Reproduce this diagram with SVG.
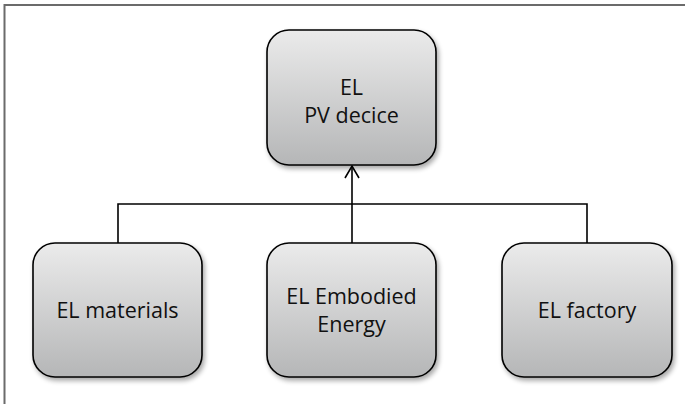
<svg xmlns="http://www.w3.org/2000/svg" width="685" height="404" viewBox="0 0 685 404">
<style>
.box{fill:url(#g);stroke:#000;stroke-width:1.6;filter:url(#sh)}
.t{font-family:"Open Sans","Liberation Sans",sans-serif;font-size:21.5px;fill:#111;text-anchor:middle}
.c{fill:none;stroke:#000;stroke-width:1.6}
</style>
<defs>
<linearGradient id="g" x1="0" y1="0" x2="0" y2="1">
<stop offset="0" stop-color="#ebebeb"/>
<stop offset="1" stop-color="#b5b6b7"/>
</linearGradient>
<filter id="sh" x="-10%" y="-10%" width="125%" height="130%">
<feGaussianBlur in="SourceAlpha" stdDeviation="2.5"/>
<feOffset dx="2" dy="3" result="b"/>
<feComponentTransfer><feFuncA type="linear" slope="0.35"/></feComponentTransfer>
<feMerge><feMergeNode/><feMergeNode in="SourceGraphic"/></feMerge>
</filter>
</defs>
<rect width="685" height="404" fill="#fff"/>
<path d="M4.5 404 V5 H685" fill="none" stroke="#6b6b6b" stroke-width="2"/>
<g id="connectors">
<path class="c" d="M118 243 V204 H587 V243"/>
<path class="c" d="M352 243 V166"/>
<path class="c" d="M345 178 L352 166 L359 178"/>
</g>
<g id="pv">
<rect class="box" x="267" y="30" width="169" height="135" rx="22"/>
<text class="t" x="351.5" y="95">EL</text>
<text class="t" x="351.5" y="123">PV decice</text>
</g>
<g id="materials">
<rect class="box" x="33" y="243" width="169" height="134" rx="22"/>
<text class="t" x="117.5" y="318">EL materials</text>
</g>
<g id="embodied">
<rect class="box" x="267" y="243" width="169" height="134" rx="22"/>
<text class="t" x="351.5" y="304">EL Embodied</text>
<text class="t" x="351.5" y="332">Energy</text>
</g>
<g id="factory">
<rect class="box" x="502" y="243" width="170" height="134" rx="22"/>
<text class="t" x="587" y="318">EL factory</text>
</g>
</svg>
